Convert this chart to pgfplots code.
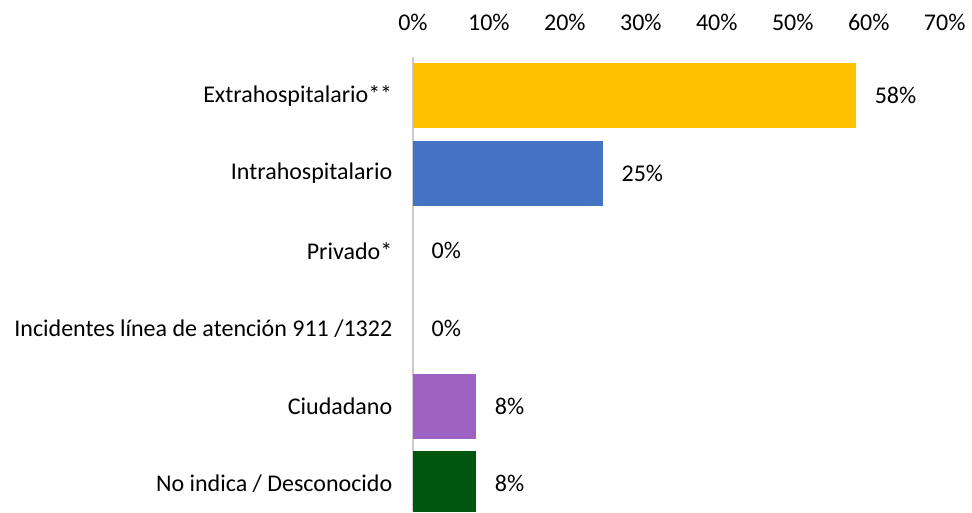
\documentclass[border=0pt]{standalone}
\usepackage{fontspec}
\setmainfont{Carlito}
\usepackage{pgfplots}
\pgfplotsset{compat=1.18}

\definecolor{cYellow}{HTML}{FFC000}
\definecolor{cBlue}{HTML}{4472C4}
\definecolor{cPurple}{HTML}{9E62C2}
\definecolor{cGreen}{HTML}{00560F}

\begin{document}
\begin{tikzpicture}
\begin{axis}[
  xbar,
  y dir=reverse,
  width=270.5pt,
  height=231.25pt,
  scale only axis,
  xmin=0, xmax=70,
  ymin=-0.5, ymax=5.354,
  bar width=33pt,
  bar shift=0pt,
  axis x line*=top,
  axis y line*=left,
  x axis line style={draw=none},
  y axis line style={draw=black!20, line width=1pt},
  major tick length=0pt,
  xtick={0,10,...,70},
  xticklabel={\pgfmathprintnumber{\tick}\%},
  /pgf/number format/assume math mode=true,
  x tick label style={font=\fontsize{12.2}{14}\selectfont, yshift=9.5pt},
  ytick={0,1,2,3,4,5},
  yticklabels={Extrahospitalario**, Intrahospitalario, Privado*,
    Incidentes línea de atención 911 /1322, Ciudadano,
    No indica / Desconocido},
  y tick label style={font=\fontsize{12.2}{14}\selectfont, xshift=-7pt},
  point meta=x,
  nodes near coords={\pgfmathprintnumber[fixed,precision=0]{\pgfplotspointmeta}\%},
  every node near coord/.append style={font=\fontsize{12.2}{14}\selectfont, xshift=6pt, black},
]
\addplot[fill=cYellow, draw=none] coordinates {(58.33,0)};
\addplot[fill=cBlue, draw=none] coordinates {(25,1)};
\addplot[draw=none, fill=none] coordinates {(0,2) (0,3)};
\addplot[fill=cPurple, draw=none] coordinates {(8.33,4)};
\addplot[fill=cGreen, draw=none] coordinates {(8.33,5)};
\end{axis}
\path ([xshift=-4pt]current bounding box.west);
\path ([yshift=4pt]current bounding box.north);
\end{tikzpicture}
\end{document}
